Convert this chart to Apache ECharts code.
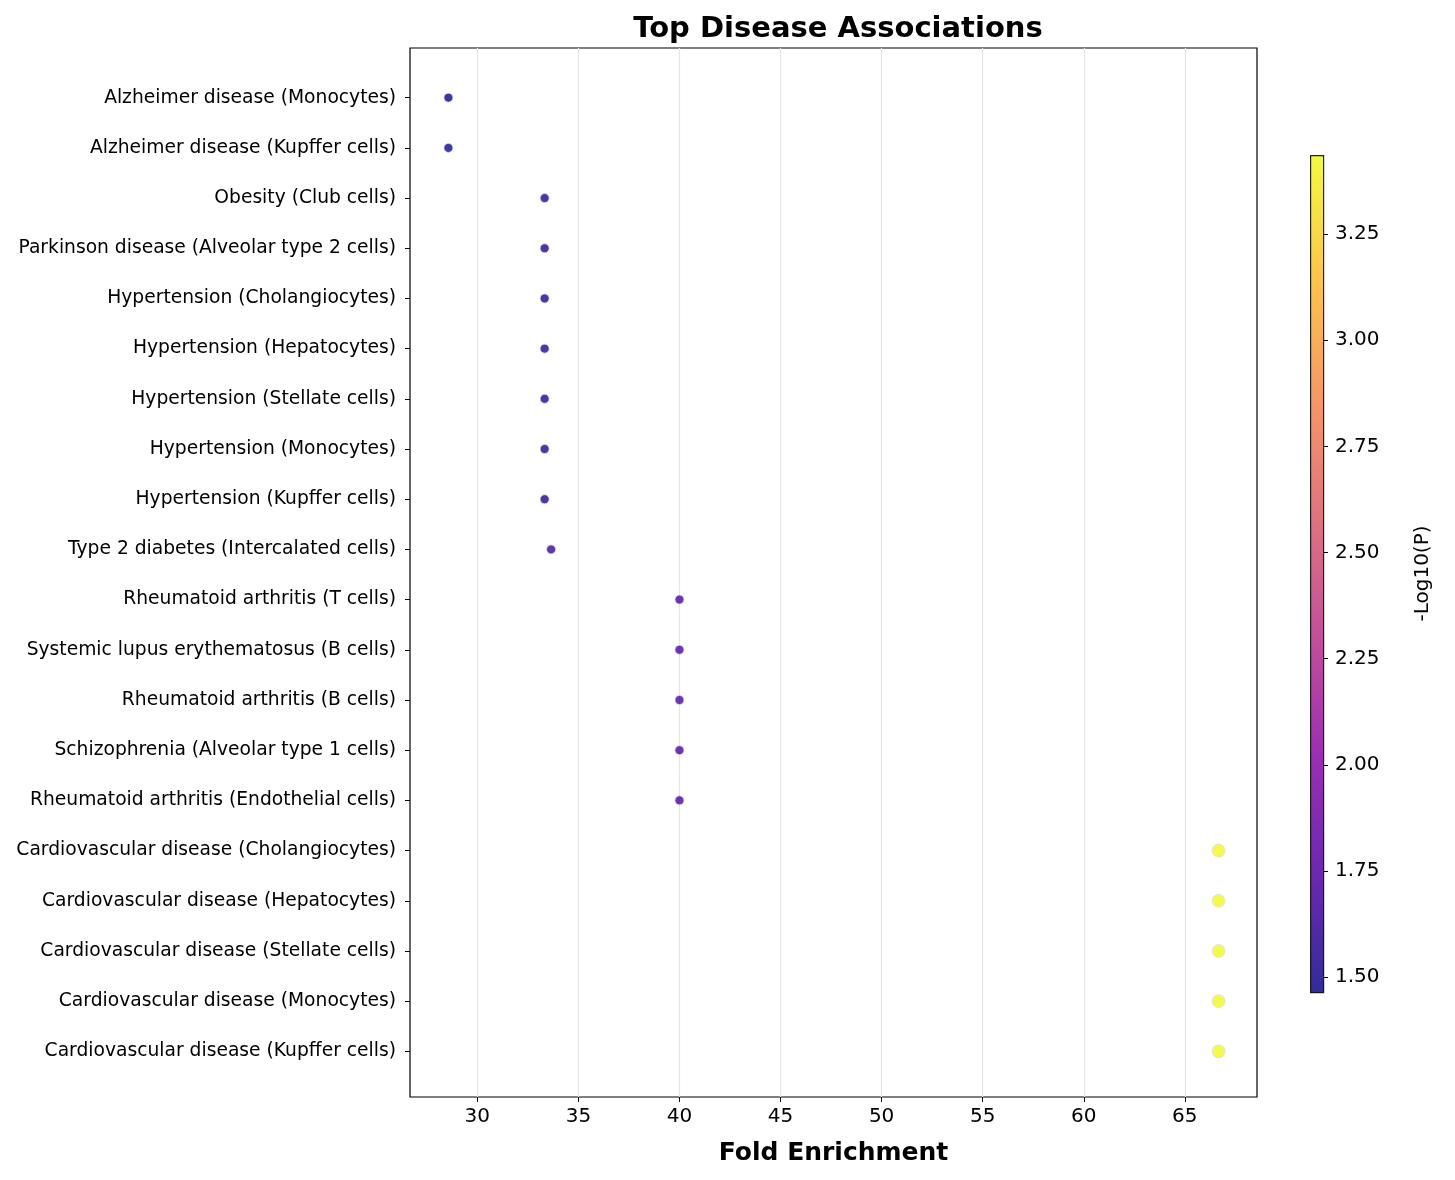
<!DOCTYPE html>
<html>
<head>
<meta charset="utf-8">
<script src="https://cdn.jsdelivr.net/npm/echarts@6/dist/echarts.min.js"></script>
<style>html,body{margin:0;padding:0;background:#fff}#chart{width:1455px;height:1180px}</style>
</head>
<body>
<div id="chart"></div>
<script>
const categories = [
  'Alzheimer disease (Monocytes)', 'Alzheimer disease (Kupffer cells)', 'Obesity (Club cells)',
  'Parkinson disease (Alveolar type 2 cells)', 'Hypertension (Cholangiocytes)', 'Hypertension (Hepatocytes)',
  'Hypertension (Stellate cells)', 'Hypertension (Monocytes)', 'Hypertension (Kupffer cells)',
  'Type 2 diabetes (Intercalated cells)', 'Rheumatoid arthritis (T cells)', 'Systemic lupus erythematosus (B cells)',
  'Rheumatoid arthritis (B cells)', 'Schizophrenia (Alveolar type 1 cells)', 'Rheumatoid arthritis (Endothelial cells)',
  'Cardiovascular disease (Cholangiocytes)', 'Cardiovascular disease (Hepatocytes)', 'Cardiovascular disease (Stellate cells)',
  'Cardiovascular disease (Monocytes)', 'Cardiovascular disease (Kupffer cells)'
];
const foldEnrichment = [28.57, 28.57, 33.33, 33.33, 33.33, 33.33, 33.33, 33.33, 33.33, 33.65,
  40, 40, 40, 40, 40, 66.67, 66.67, 66.67, 66.67, 66.67];
const negLogP = [1.47, 1.47, 1.52, 1.52, 1.52, 1.52, 1.52, 1.52, 1.52, 1.62,
  1.72, 1.72, 1.72, 1.72, 1.72, 3.44, 3.44, 3.44, 3.44, 3.44];
const pointSize = [9, 9, 9, 9, 9, 9, 9, 9, 9, 9, 9, 9, 9, 9, 9, 13, 13, 13, 13, 13];
const xTicks = [30, 35, 40, 45, 50, 55, 60, 65];
const cbarTicks = [1.5, 1.75, 2.0, 2.25, 2.5, 2.75, 3.0, 3.25];
const cbarMin = 1.465, cbarMax = 3.436;
const plasma = ['#0d0887', '#5302a3', '#8b0aa5', '#b83289', '#db5c68', '#f48849', '#febd2a', '#f0f921'];

const data = categories.map((c, i) => [foldEnrichment[i], i, negLogP[i], pointSize[i]]);
const font = 'DejaVu Sans';

const chart = echarts.init(document.getElementById('chart'));
chart.setOption({
  animation: false,
  textStyle: { fontFamily: font },
  title: { text: 'Top Disease Associations', left: 833, top: 10, textAlign: 'center',
    textStyle: { fontSize: 29, fontWeight: 'bold', color: '#000' } },
  visualMap: { show: false, min: cbarMin, max: cbarMax, dimension: 2, seriesIndex: 0,
    inRange: { color: plasma } },
  grid: [
    { left: 410, right: 198, top: 48, bottom: 83, show: true, borderColor: '#000', borderWidth: 1.2 },
    { left: 1310, width: 13, top: 155, height: 837 }
  ],
  xAxis: [
    { type: 'value', gridIndex: 0, min: 26.67, max: 68.57,
      name: 'Fold Enrichment', nameLocation: 'middle', nameGap: 44,
      nameTextStyle: { fontSize: 25, fontWeight: 'bold', color: '#000' },
      axisLine: { show: false, onZero: false },
      axisTick: { show: true, customValues: xTicks, length: 5, lineStyle: { color: '#000' } },
      axisLabel: { customValues: xTicks, fontSize: 20, color: '#000', margin: 10 },
      splitLine: { show: true, lineStyle: { color: '#e6e6e6', width: 1.2 } } },
    { type: 'value', gridIndex: 1, show: false, min: 0, max: 1 }
  ],
  yAxis: [
    { type: 'value', gridIndex: 0, inverse: true, min: -0.99, max: 19.91,
      axisLine: { show: false, onZero: false },
      axisTick: { show: true, customValues: categories.map((c, i) => i), length: 5, lineStyle: { color: '#000' } },
      axisLabel: { customValues: categories.map((c, i) => i), fontSize: 18.7, color: '#000', margin: 14,
        formatter: v => categories[Math.round(v)] },
      splitLine: { show: false } },
    { type: 'value', gridIndex: 1, position: 'right', min: cbarMin, max: cbarMax,
      name: '-Log10(P)', nameLocation: 'middle', nameGap: 90, nameRotate: 90,
      nameTextStyle: { fontSize: 20, color: '#000' },
      axisLine: { show: false, onZero: false },
      axisTick: { show: true, customValues: cbarTicks, length: 5, lineStyle: { color: '#000' } },
      axisLabel: { customValues: cbarTicks, fontSize: 20, color: '#000', margin: 12,
        formatter: v => v.toFixed(2) },
      splitLine: { show: false } }
  ],
  graphic: [{
    type: 'rect', left: 1310, top: 155, z: -1,
    shape: { width: 13, height: 837 },
    style: { stroke: '#000', lineWidth: 1.2, opacity: 0.85,
      fill: new echarts.graphic.LinearGradient(0, 1, 0, 0,
        plasma.map((c, i) => ({ offset: i / (plasma.length - 1), color: c }))) }
  }],
  series: [{
    type: 'scatter', xAxisIndex: 0, yAxisIndex: 0, data: data,
    symbolSize: d => d[3],
    itemStyle: { opacity: 0.8, borderColor: '#dcdcf0', borderWidth: 1 }
  }]
});
</script>
</body>
</html>
